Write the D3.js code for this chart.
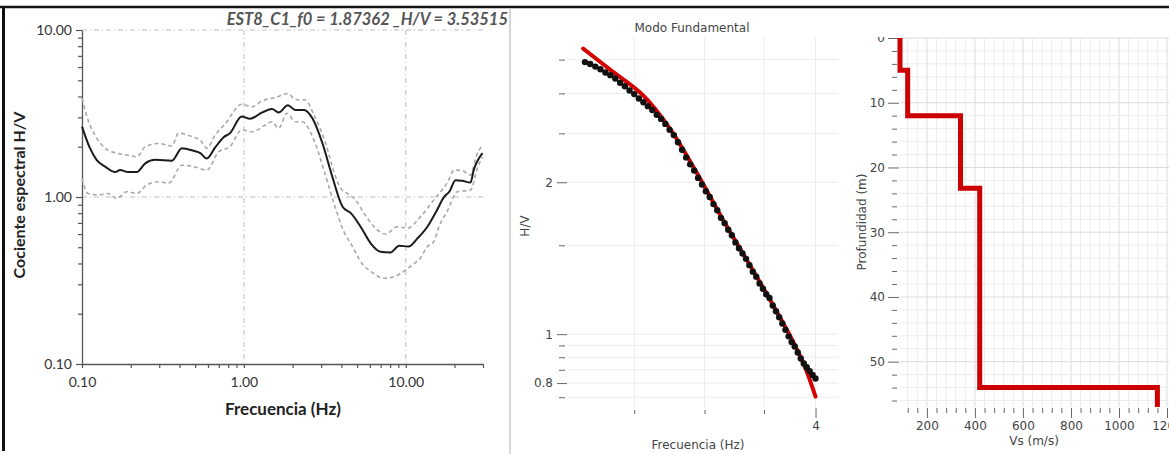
<!DOCTYPE html>
<html>
<head>
<meta charset="utf-8">
<script src="https://cdn.jsdelivr.net/npm/d3@7"></script>
<style>
	body { margin: 0; background: #fff; }
	svg { display: block; }
	.p1 text { font-family: Lato, "Open Sans", sans-serif; }
	.p2 text, .p3 text { font-family: "DejaVu Sans", Verdana, sans-serif; font-size: 12px; fill: #444; }
</style>
</head>
<body>
<div id="chart"></div>
<script>
// H/V spectral ratio (left panel)
var hvFreq = [0.100,0.112,0.123,0.139,0.160,0.172,0.193,0.218,0.246,0.283,0.359,0.414,0.489,0.538,0.590,0.665,0.750,0.820,0.970,1.09,1.30,1.49,1.64,1.87,2.08,2.35,2.65,3.06,3.52,4.07,4.58,5.26,6.07,6.98,8.05,9.10,10.4,11.8,13.6,15.4,17.3,18.6,20.3,22.3,25.1,26.3,29.8];
var hvMean = [2.64,1.96,1.67,1.52,1.41,1.45,1.41,1.41,1.59,1.67,1.65,1.96,1.89,1.83,1.70,1.98,2.28,2.41,3.03,2.94,3.21,3.36,3.21,3.54,3.32,3.32,2.96,2.09,1.32,0.875,0.80,0.664,0.528,0.47,0.466,0.511,0.505,0.565,0.664,0.817,1.004,1.076,1.26,1.25,1.22,1.45,1.83];
var hvUpFreq = [0.100,0.109,0.120,0.139,0.164,0.193,0.218,0.246,0.297,0.359,0.395,0.477,0.538,0.590,0.665,0.770,0.970,1.12,1.30,1.57,1.87,2.08,2.40,2.71,3.20,3.62,3.96,4.36,4.90,5.52,6.50,7.50,8.90,10.2,12.3,14.9,18.2,19.9,22.3,25.1,27.2,29.8];
var hvUp = [3.90,2.89,2.35,1.96,1.83,1.78,1.74,2.00,2.09,2.02,2.41,2.30,2.19,1.96,2.35,2.76,3.59,3.47,3.77,3.95,4.17,3.84,3.81,3.10,2.09,1.39,1.13,1.05,0.96,0.80,0.65,0.60,0.664,0.65,0.76,0.96,1.235,1.45,1.44,1.35,1.74,2.05];
var hvLoFreq = [0.100,0.109,0.126,0.145,0.164,0.189,0.218,0.251,0.297,0.343,0.414,0.489,0.590,0.700,0.820,0.970,1.12,1.36,1.49,1.64,1.85,2.08,2.29,2.71,3.12,3.60,4.15,4.69,5.37,6.30,7.30,8.60,10.0,11.3,12.3,13.6,14.9,16.0,18.2,20.8,25.1,27.9,29.8];
var hvLo = [1.29,1.05,1.03,1.05,0.98,1.076,1.05,1.18,1.235,1.21,1.55,1.52,1.45,1.87,2.00,2.52,2.46,2.70,2.82,2.58,3.17,2.82,2.82,2.19,1.45,0.917,0.62,0.505,0.40,0.35,0.326,0.335,0.365,0.40,0.43,0.505,0.54,0.66,0.836,1.076,1.10,1.52,1.74];
var hvTitle = "EST8_C1_f0 = 1.87362 _H/V = 3.53515";

// fundamental mode fit (middle panel)
var fitObsFreq = [2.20,2.23,2.26,2.29,2.32,2.35,2.38,2.41,2.44,2.47,2.50,2.53,2.56,2.59,2.62,2.65,2.68,2.71,2.74,2.77,2.80,2.83,2.86,2.89,2.92,2.95,2.98,3.01,3.04,3.07,3.10,3.13,3.16,3.19,3.22,3.25,3.28,3.31,3.34,3.37,3.40,3.43,3.46,3.49,3.52,3.55,3.58,3.61,3.64,3.67,3.70,3.73,3.76,3.79,3.82,3.85,3.88,3.91,3.94,3.97,4.00];
var fitObsHV = [3.46,3.43,3.39,3.35,3.30,3.26,3.21,3.15,3.10,3.04,2.99,2.93,2.88,2.83,2.78,2.72,2.67,2.61,2.54,2.48,2.40,2.32,2.24,2.17,2.11,2.04,1.98,1.92,1.87,1.81,1.76,1.70,1.66,1.61,1.57,1.52,1.48,1.445,1.41,1.37,1.33,1.30,1.26,1.23,1.20,1.18,1.14,1.11,1.08,1.05,1.02,0.99,0.965,0.945,0.92,0.895,0.875,0.86,0.845,0.83,0.817];
var fitCurveFreq = [2.19,2.35,2.56,2.74,2.93,3.15,3.35,3.54,3.77,3.89,4.00];
var fitCurveHV = [3.68,3.34,2.97,2.56,2.11,1.68,1.40,1.185,0.97,0.863,0.752];
var fitXTicks = [2.5, 3, 3.5, 4];
var fitXLabels = ["", "", "", "4"];
var fitYTicks = [0.75, 0.8, 0.85, 0.9, 0.95, 1, 1.5, 2, 2.5, 3, 3.5];
var fitYLabels = ["", "0.8", "", "", "", "1", "", "2", "", "", ""];

// shear wave velocity profile (right panel)
var layerTop = [0, 5, 12, 23.2, 54];
var layerVs = [88, 120, 340, 420, 1160];
var profileBottom = 57;

var W = 1169, H = 454;
var svg = d3.select("#chart").append("svg").attr("width", W).attr("height", H);

function isDecade(d){
	var l = Math.log10(d);
	return Math.abs(l - Math.round(l)) < 1e-6;
}

function drawHV(){
	var g = svg.append("g").attr("class", "p1");
	var x = d3.scaleLog().domain([0.1, 30]).range([82, 483]);
	var y = d3.scaleLog().domain([0.1, 10]).range([364, 30]);

	// dash-dot grid at decades
	g.selectAll(".vgrid").data([1, 10]).enter().append("line")
		.attr("x1", function(d){ return x(d); }).attr("x2", function(d){ return x(d); })
		.attr("y1", y(10)).attr("y2", y(0.1))
		.attr("stroke", "#bdbdbd").attr("stroke-dasharray", "5,3,1,3");
	g.selectAll(".hgrid").data([1, 10]).enter().append("line")
		.attr("x1", x(0.1)).attr("x2", x(30))
		.attr("y1", function(d){ return y(d); }).attr("y2", function(d){ return y(d); })
		.attr("stroke", "#bdbdbd").attr("stroke-dasharray", "5,3,1,3");

	var fmt = d3.format(".2f");
	var xAxis = d3.axisBottom(x).tickValues(x.ticks()).tickSizeInner(4).tickSizeOuter(0).tickPadding(9)
		.tickFormat(function(d){ return isDecade(d) ? fmt(d) : ""; });
	var yAxis = d3.axisLeft(y).tickValues(y.ticks()).tickSizeInner(6).tickSizeOuter(0).tickPadding(4)
		.tickFormat(function(d){ return isDecade(d) ? fmt(d) : ""; });

	var gx = g.append("g").attr("transform", "translate(0," + y(0.1) + ")").call(xAxis);
	var gy = g.append("g").attr("transform", "translate(" + x(0.1) + ",0)").call(yAxis);
	gy.selectAll(".tick line").attr("x2", function(d){ return isDecade(d) ? -6 : -4; });
	[gx, gy].forEach(function(a){
		a.select(".domain").attr("stroke", "#555").attr("stroke-width", 1.3);
		a.selectAll(".tick line").attr("stroke", "#555").attr("stroke-width", 1.2);
		a.selectAll(".tick text").attr("fill", "#333").style("font-size", "14px")
			.style("font-family", "Lato, sans-serif");
	});

	function curve(fs, vs){
		return d3.line().curve(d3.curveMonotoneX)
			.x(function(d, i){ return x(fs[i]); })
			.y(function(d, i){ return y(vs[i]); })(vs);
	}
	g.append("path").attr("d", curve(hvUpFreq, hvUp))
		.attr("fill", "none").attr("stroke", "#a8a8a8").attr("stroke-width", 1.6).attr("stroke-dasharray", "4,3");
	g.append("path").attr("d", curve(hvLoFreq, hvLo))
		.attr("fill", "none").attr("stroke", "#a8a8a8").attr("stroke-width", 1.6).attr("stroke-dasharray", "4,3");
	g.append("path").attr("d", curve(hvFreq, hvMean))
		.attr("fill", "none").attr("stroke", "#1a1a1a").attr("stroke-width", 2);

	g.append("text").text(hvTitle)
		.attr("x", 508).attr("y", 25).attr("text-anchor", "end")
		.attr("fill", "#555").style("font-size", "16.5px").style("font-weight", "bold").style("font-style", "italic");
	g.append("text").text("Cociente espectral H/V")
		.attr("transform", "translate(25,195) rotate(-90)").attr("text-anchor", "middle")
		.attr("fill", "#222").style("font-size", "16px").style("font-weight", "bold");
	g.append("text").text("Frecuencia (Hz)")
		.attr("x", 283).attr("y", 415).attr("text-anchor", "middle")
		.attr("fill", "#222").style("font-size", "17px").style("font-weight", "bold");
}

function drawFit(){
	var g = svg.append("g").attr("class", "p2");
	var x = d3.scaleLog().domain([2.1, 4.24]).range([567, 838]);
	var y = d3.scaleLog().domain([0.714, 3.88]).range([408, 37]);

	g.selectAll(".hgrid").data(fitYTicks).enter().append("line")
		.attr("x1", 567).attr("x2", 838)
		.attr("y1", function(d){ return y(d); }).attr("y2", function(d){ return y(d); })
		.attr("stroke", "#ececec");
	g.selectAll(".vgrid").data(fitXTicks).enter().append("line")
		.attr("x1", function(d){ return x(d); }).attr("x2", function(d){ return x(d); })
		.attr("y1", 37).attr("y2", 408)
		.attr("stroke", "#ececec");

	var yAxis = d3.axisLeft(y).tickValues(fitYTicks).tickSizeInner(10).tickPadding(4)
		.tickFormat(function(d, i){ return fitYLabels[i]; });
	var gy = g.append("g").attr("transform", "translate(567,0)").call(yAxis);
	gy.select(".domain").remove();
	gy.selectAll(".tick line")
		.attr("x1", function(d, i){ return fitYLabels[i] ? 0 : -2; })
		.attr("x2", function(d, i){ return fitYLabels[i] ? -10 : -8; })
		.attr("stroke", "#666");

	var xAxis = d3.axisBottom(x).tickValues(fitXTicks).tickSizeInner(10).tickPadding(3)
		.tickFormat(function(d, i){ return fitXLabels[i]; });
	var gx = g.append("g").attr("transform", "translate(0,408)").call(xAxis);
	gx.select(".domain").remove();
	gx.selectAll(".tick line")
		.attr("y1", function(d, i){ return fitXLabels[i] ? 0 : 2; })
		.attr("y2", function(d, i){ return fitXLabels[i] ? 10 : 6; })
		.attr("stroke", "#666");
	g.selectAll(".tick text").attr("fill", "#444").style("font-size", "12px");

	var red = d3.line().curve(d3.curveCatmullRom.alpha(0.5))
		.x(function(d, i){ return x(fitCurveFreq[i]); })
		.y(function(d){ return y(d); });
	g.append("path").attr("d", red(fitCurveHV))
		.attr("fill", "none").attr("stroke", "#d40000").attr("stroke-width", 4).attr("stroke-linecap", "round");

	g.selectAll(".obs").data(fitObsHV).enter().append("circle")
		.attr("cx", function(d, i){ return x(fitObsFreq[i]); })
		.attr("cy", function(d){ return y(d); })
		.attr("r", 3.2)
		.attr("fill", "#111");

	g.append("text").text("Modo Fundamental")
		.attr("x", 692).attr("y", 32).attr("text-anchor", "middle");
	g.append("text").text("H/V")
		.attr("transform", "translate(529,226) rotate(-90)").attr("text-anchor", "middle");
	g.append("text").text("Frecuencia (Hz)")
		.attr("x", 698).attr("y", 449).attr("text-anchor", "middle");
}

function drawProfile(){
	var g = svg.append("g").attr("class", "p3");
	var x = d3.scaleLinear().domain([88, 1250]).range([900, 1179]);
	var y = d3.scaleLinear().domain([0, profileBottom]).range([38, 407]);

	var vsTicks = d3.range(120, 1250, 40);
	var depthTicks = d3.range(0, profileBottom, 2);

	g.selectAll(".vgrid").data(vsTicks).enter().append("line")
		.attr("x1", function(d){ return x(d); }).attr("x2", function(d){ return x(d); })
		.attr("y1", y(0)).attr("y2", y(profileBottom))
		.attr("stroke", function(d){ return d % 200 == 0 ? "#dcdcdc" : "#ececec"; });
	g.selectAll(".hgrid").data(depthTicks).enter().append("line")
		.attr("x1", x(88)).attr("x2", W)
		.attr("y1", function(d){ return y(d); }).attr("y2", function(d){ return y(d); })
		.attr("stroke", function(d){ return d % 10 == 0 ? "#dcdcdc" : "#ececec"; });

	// the top label is cut by the plot edge (clip box in the axis group's own coordinates)
	svg.append("clipPath").attr("id", "depthClip")
		.append("rect").attr("x", -60).attr("y", 37).attr("width", 70).attr("height", 400);

	var yAxis = d3.axisLeft(y).tickValues(depthTicks).tickSizeInner(12).tickPadding(3)
		.tickFormat(function(d){ return d % 10 == 0 ? d : ""; });
	var gy = g.append("g").attr("transform", "translate(900,0)").attr("clip-path", "url(#depthClip)").call(yAxis);
	gy.select(".domain").remove();
	gy.selectAll(".tick line")
		.attr("x1", function(d){ return d % 10 == 0 ? -1 : -3; })
		.attr("x2", function(d){ return d % 10 == 0 ? -12 : -8; })
		.attr("stroke", "#666");

	var xAxis = d3.axisBottom(x).tickValues(vsTicks).tickSizeInner(10).tickPadding(3)
		.tickFormat(function(d){ return d % 200 == 0 ? d : ""; });
	var gx = g.append("g").attr("transform", "translate(0,408)").call(xAxis);
	gx.select(".domain").remove();
	gx.selectAll(".tick line")
		.attr("y2", function(d){ return d % 200 == 0 ? 10 : 5; })
		.attr("stroke", "#666");
	g.selectAll(".tick text").attr("fill", "#444").style("font-size", "12px");

	var pts = [];
	layerVs.forEach(function(v, i){
		var bottom = i < layerTop.length - 1 ? layerTop[i + 1] : profileBottom;
		pts.push([v, layerTop[i]]);
		pts.push([v, bottom]);
	});
	g.append("path")
		.attr("d", d3.line().x(function(d){ return x(d[0]); }).y(function(d){ return y(d[1]); })(pts))
		.attr("fill", "none").attr("stroke", "#cc0000").attr("stroke-width", 5);

	g.append("text").text("Profundidad (m)")
		.attr("transform", "translate(866,222) rotate(-90)").attr("text-anchor", "middle");
	g.append("text").text("Vs (m/s)")
		.attr("x", 1034).attr("y", 445).attr("text-anchor", "middle");
}

// frame
svg.append("line").attr("x1", 0).attr("x2", W).attr("y1", 7).attr("y2", 7)
	.attr("stroke", "#111").attr("stroke-width", 2.5);
svg.append("line").attr("x1", 3.5).attr("x2", 3.5).attr("y1", 6).attr("y2", 451)
	.attr("stroke", "#111").attr("stroke-width", 3);
svg.append("line").attr("x1", 510).attr("x2", 510).attr("y1", 8).attr("y2", H)
	.attr("stroke", "#c8c8c8").attr("stroke-width", 1.5);

drawHV();
drawFit();
drawProfile();
</script>
</body>
</html>
